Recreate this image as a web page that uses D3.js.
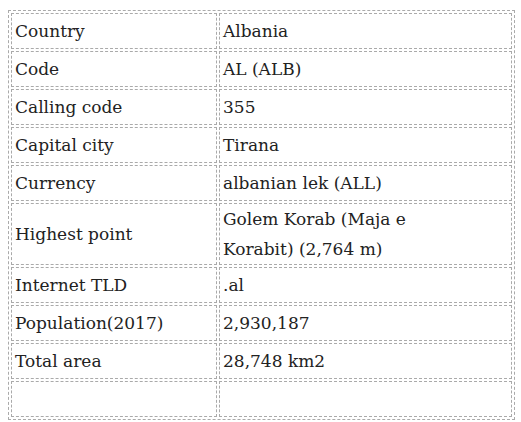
<!DOCTYPE html>
<html><head><meta charset="utf-8">
<script src="https://cdn.jsdelivr.net/npm/d3@7"></script>
<style>
body{margin:0;background:#fff;}
table{position:absolute;left:8px;top:10px;width:507px;border:1px dashed #aaa;border-spacing:2px;border-collapse:separate;
 font-family:"DejaVu Serif",Georgia,serif;font-size:17px;color:#222;}
td{border:1px dashed #aaa;padding:0 3px;height:34px;vertical-align:middle;line-height:30px;}
td.k{width:198px;}
td.v div{width:215px;}
</style></head><body>
<div id="t"></div>
<script>
var labels = ["Country","Code","Calling code","Capital city","Currency","Highest point","Internet TLD","Population(2017)","Total area",""];
var values = ["Albania","AL (ALB)","355","Tirana","albanian lek (ALL)","Golem Korab (Maja e Korabit) (2,764 m)",".al","2,930,187","28,748 km2",""];

var rows = d3.select("#t").append("table")
    .selectAll("tr")
    .data(labels)
    .enter()
    .append("tr");
rows.append("td").attr("class","k").text(function(d){ return d; });
rows.append("td").attr("class","v")
    .append("div")
    .text(function(d,i){ return values[i]; });
</script>
</body></html>
